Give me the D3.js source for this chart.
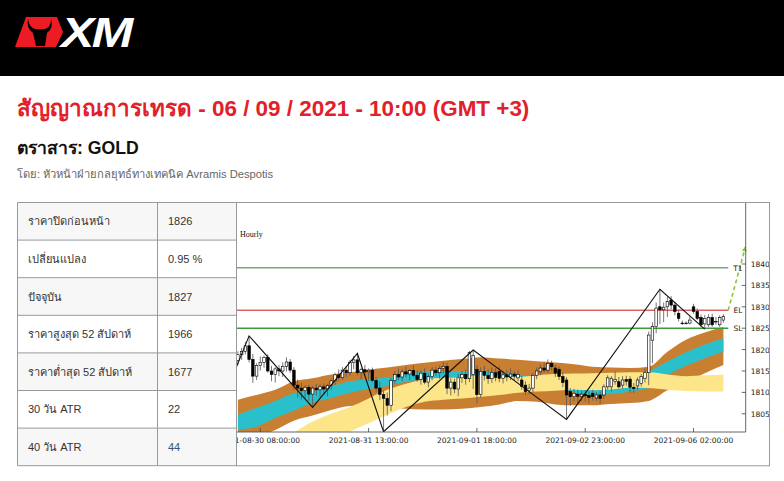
<!DOCTYPE html>
<html><head><meta charset="utf-8">
<script src="https://cdn.jsdelivr.net/npm/d3@7"></script>
<style>
body{margin:0;background:#fff;}
svg{display:block;font-family:"Liberation Sans",Arial,"Noto Sans",sans-serif;}
</style>
</head><body>
<svg id="c" width="784" height="481"></svg>
<script>
// ---------------- DATA ----------------
const titleText = "สัญญาณการเทรด - 06 / 09 / 2021 - 10:00 (GMT +3)";
const instrumentText = "ตราสาร: GOLD";
const authorText = "โดย: หัวหน้าฝ่ายกลยุทธ์ทางเทคนิค Avramis Despotis";
const tableLabels = ["ราคาปิดก่อนหน้า","เปลี่ยนแปลง","ปัจจุบัน","ราคาสูงสุด 52 สัปดาห์","ราคาต่ำสุด 52 สัปดาห์","30 วัน ATR","40 วัน ATR"];
const tableValues = ["1826","0.95 %","1827","1966","1677","22","44"];

const yTicks = [1805,1810,1815,1820,1825,1830,1835,1840];
const xTickIdx = [6,35,64,93,122];
const xTickLabels = ["2021-08-30 08:00:00","2021-08-31 13:00:00","2021-09-01 18:00:00","2021-09-02 23:00:00","2021-09-06 02:00:00"];

const open = [1817.5,1818.8,1819.6,1820.9,1817.7,1813.8,1816.3,1817.0,1818.2,1815.0,1814.2,1815.5,1815.0,1816.1,1817.1,1815.2,1811.7,1811.0,1810.4,1811.2,
1809.6,1811.0,1810.6,1811.3,1810.8,1811.6,1812.7,1814.1,1813.5,1815.2,1814.6,1817.0,1817.6,1814.6,1815.3,1814.8,1815.2,1812.8,1811.0,1809.5,
1808.6,1807.0,1812.8,1814.2,1813.6,1814.8,1814.3,1815.1,1814.0,1813.0,1814.5,1812.4,1813.7,1815.2,1814.6,1815.6,1816.1,1811.0,1812.4,1810.8,
1813.4,1814.2,1813.2,1814.2,1815.4,1809.5,1814.9,1814.0,1813.2,1814.6,1814.9,1813.3,1814.1,1813.6,1814.3,1813.4,1812.9,1811.7,1810.4,1811.0,
1814.0,1814.8,1815.7,1815.2,1816.8,1815.7,1815.4,1813.7,1812.9,1810.2,1809.0,1809.6,1809.1,1809.6,1809.3,1809.8,1808.7,1809.4,1809.4,1811.3,
1811.3,1812.6,1812.5,1811.7,1813.0,1813.1,1811.2,1811.5,1812.1,1813.3,1814.6,1822.2,1825.4,1830.0,1829.3,1830.0,1831.6,1830.4,1828.5,1826.2,
1826.1,1826.2,1830.0,1828.9,1827.5,1826.0,1825.8,1827.5,1826.5,1825.8,1826.9];
const high = [1819.6,1820.4,1821.8,1823.2,1819.0,1816.8,1818.4,1818.6,1818.9,1816.2,1815.9,1816.4,1817.0,1818.2,1817.8,1815.9,1813.0,1812.2,1811.7,1811.8,
1811.5,1812.0,1811.9,1812.1,1812.0,1813.2,1814.6,1815.4,1815.9,1816.1,1817.6,1818.5,1819.1,1815.8,1816.4,1815.6,1815.8,1813.6,1812.5,1810.4,
1810.0,1813.4,1815.0,1815.6,1815.4,1816.0,1815.5,1816.3,1815.1,1815.2,1815.6,1814.3,1815.9,1816.0,1816.3,1817.1,1816.9,1813.3,1813.2,1814.4,
1815.0,1815.3,1819.7,1819.9,1816.4,1815.9,1816.2,1815.3,1815.8,1815.6,1816.1,1815.0,1815.2,1815.6,1815.1,1815.3,1814.0,1812.6,1812.0,1814.6,
1815.8,1816.6,1816.9,1817.7,1817.4,1816.4,1816.0,1814.6,1813.6,1811.0,1810.8,1810.6,1810.4,1810.5,1810.2,1810.6,1810.1,1810.2,1811.9,1814.0,
1813.8,1814.9,1813.6,1813.8,1813.9,1813.8,1812.2,1813.5,1814.3,1815.6,1824.2,1826.4,1831.0,1834.1,1831.0,1832.3,1832.5,1831.2,1829.3,1826.8,
1826.6,1827.8,1830.7,1829.6,1828.2,1828.1,1828.3,1828.4,1827.6,1828.0,1828.3];
const low = [1816.4,1817.6,1818.9,1817.0,1812.2,1812.9,1815.1,1815.8,1814.6,1812.6,1812.3,1813.8,1813.6,1814.9,1814.6,1810.6,1808.8,1808.3,1808.6,1808.0,
1806.5,1809.2,1808.7,1809.4,1809.1,1810.6,1811.8,1812.8,1812.9,1813.6,1813.9,1815.4,1814.0,1813.0,1814.1,1812.7,1812.3,1810.2,1808.2,1800.8,
1804.6,1805.6,1812.0,1812.9,1812.6,1813.5,1812.8,1813.6,1812.5,1811.8,1811.9,1811.2,1812.8,1813.9,1813.2,1814.4,1809.6,1809.3,1809.8,1809.1,
1812.2,1811.8,1812.4,1810.8,1807.4,1808.8,1812.8,1812.0,1812.2,1812.6,1812.4,1812.1,1812.6,1812.9,1812.7,1812.6,1810.6,1809.4,1809.6,1810.1,
1813.1,1814.0,1814.6,1814.5,1815.1,1813.6,1812.9,1811.2,1803.7,1806.9,1807.9,1807.6,1808.0,1807.8,1807.4,1808.1,1807.9,1807.3,1808.5,1810.6,
1810.2,1811.8,1810.9,1810.8,1811.6,1809.9,1809.8,1810.6,1811.4,1812.3,1811.7,1816.8,1823.8,1826.0,1826.4,1827.6,1829.4,1828.0,1826.6,1825.8,
1825.9,1825.9,1828.4,1826.9,1825.3,1824.8,1825.3,1825.3,1825.8,1825.3,1826.3];
const close = [1818.8,1819.6,1820.9,1817.7,1813.8,1816.3,1817.0,1818.2,1815.0,1814.2,1815.5,1815.0,1816.1,1817.1,1815.2,1811.7,1811.0,1810.4,1811.2,1809.6,
1811.0,1810.6,1811.3,1810.8,1811.6,1812.7,1814.1,1813.5,1815.2,1814.6,1817.0,1817.6,1814.6,1815.3,1814.8,1815.2,1812.8,1811.0,1809.5,1808.6,
1807.0,1812.8,1814.2,1813.6,1814.8,1814.3,1815.1,1814.0,1813.0,1814.5,1812.4,1813.7,1815.2,1814.6,1815.6,1816.1,1811.0,1812.4,1810.8,1813.4,
1814.2,1813.2,1819.3,1818.6,1809.5,1814.9,1814.0,1813.2,1814.6,1813.5,1813.3,1814.1,1813.6,1814.3,1813.8,1814.2,1811.4,1810.2,1811.0,1814.0,
1815.0,1815.7,1815.2,1816.8,1816.0,1814.5,1813.7,1812.3,1809.4,1809.0,1809.8,1809.1,1809.6,1809.2,1808.8,1809.0,1809.4,1808.6,1811.3,1813.4,
1813.3,1813.0,1811.3,1812.9,1812.6,1811.2,1810.9,1812.9,1813.7,1814.6,1823.4,1825.4,1829.7,1829.3,1829.9,1831.2,1830.4,1828.9,1827.3,1826.1,
1826.2,1826.9,1828.9,1827.3,1825.8,1827.3,1827.5,1825.8,1826.6,1827.5,1827.7];

const bandIdx  = [0,5,10,15,20,25,30,35,40,45,50,55,60,65,70,75,80,85,90,95,100,105,110,115,120,125,130];
const brownTop = [1808.3,1809.4,1810.6,1812.6,1813.3,1814.2,1814.7,1815.3,1815.8,1816.4,1816.9,1817.4,1817.8,1818.2,1817.9,1817.6,1817.3,1817.0,1816.6,1816.0,1815.8,1815.7,1816.0,1819.5,1822.3,1824.0,1825.3];
const cyanTop  = [1804.8,1806.4,1808.0,1809.8,1810.3,1811.4,1812.6,1813.1,1813.5,1814.3,1814.8,1815.0,1815.0,1814.9,1814.6,1814.2,1813.6,1813.0,1812.2,1811.6,1811.4,1811.8,1814.8,1817.2,1819.4,1821.2,1822.6];
const cyanBot  = [1801.3,1802.0,1804.0,1805.8,1807.6,1808.7,1809.9,1810.8,1811.5,1812.5,1813.0,1813.3,1813.4,1813.9,1813.6,1813.2,1812.2,1811.0,1810.0,1809.4,1809.6,1810.2,1811.0,1814.0,1816.2,1818.0,1819.5];
const brownBot = [1798.0,1799.5,1801.2,1803.4,1804.6,1805.9,1806.8,1807.0,1806.5,1806.2,1806.0,1806.0,1806.2,1806.6,1807.2,1808.0,1807.8,1807.2,1807.0,1807.0,1807.3,1807.5,1808.0,1810.5,1812.4,1814.5,1816.4];

const yellowIdx = [15,20,25,30,35,40,45,50,55,60,65,70,75,80,85,90,95,100,105,110,115,120,125,130];
const yellowTop = [1800.6,1803.2,1805.0,1806.6,1808.6,1810.6,1812.0,1813.0,1813.4,1813.5,1814.0,1814.0,1813.6,1814.0,1814.3,1814.4,1814.5,1814.6,1814.7,1814.7,1814.2,1813.8,1814.0,1814.2];
const yellowBot = [1795.0,1796.0,1797.5,1800.8,1802.8,1804.8,1806.6,1807.8,1808.3,1808.6,1809.0,1809.4,1809.9,1810.2,1810.4,1810.6,1810.5,1810.7,1811.1,1811.0,1810.6,1810.3,1810.2,1810.2];

const zigIdx = [-2,3,20,32,39,63,88,113,125];
const zigVal = [1812.5,1823.2,1806.5,1819.1,1800.8,1819.9,1803.7,1834.1,1824.8];

const levelNames  = ["T1","EL","SL"];
const levelValues = [1839.1,1829.2,1825.0];
const levelColors = ["#74ab74","#e06464","#3c9c3c"];
const levelEndIdx = 131.3;
const arrowIdx = [131.3,135.9];
const arrowVal = [1829.2,1844.0];

// ---------------- DRAW ----------------
const svg = d3.select("#c");
svg.append("rect").attr("width",784).attr("height",481).attr("fill","#fff");

// header
svg.append("rect").attr("x",0).attr("y",0).attr("width",784).attr("height",76).attr("fill","#000");
svg.append("path").attr("d","M26,17 L57,17 L63,32 L56,47 L15,47 Z").attr("fill","#ed1c24");
svg.append("path").attr("d","M28,19 Q29,27 35,29 L45,29 Q51,27 51,19 Q54,28 47,33 L45,46 L36,46 L33,33 Q26,28 28,19 Z").attr("fill","#000");
const xm = svg.append("text").attr("x",61).attr("y",47).attr("fill","#fff")
  .attr("font-size",42).attr("font-weight","bold").attr("font-style","italic")
  .attr("letter-spacing",-2).text("XM");
xm.attr("textLength",70).attr("lengthAdjust","spacingAndGlyphs");

function fit(sel, target, size){
  sel.attr("font-size",size);
  const w = sel.node().getComputedTextLength();
  if (w>0) sel.attr("font-size", size*target/w);
}
const title = svg.append("text").attr("x",17).attr("y",116).attr("fill","#e2202a")
  .attr("font-weight","bold").text(titleText);
fit(title, 510, 22);
const inst = svg.append("text").attr("x",17).attr("y",154).attr("fill","#111")
  .attr("font-weight","bold").text(instrumentText);
fit(inst, 123, 17);
const auth = svg.append("text").attr("x",17).attr("y",178).attr("fill","#666").text(authorText);
fit(auth, 255, 11);

// table
const tX0=17.5, tX1=157.5, tX2=236.5, tY0=202.5, rowH=37.6;
const tg = svg.append("g");
tableLabels.forEach((lab,i)=>{
  const y = tY0 + i*rowH;
  tg.append("rect").attr("x",tX0).attr("y",y).attr("width",tX2-tX0).attr("height",rowH)
    .attr("fill", i%2===0 ? "#f7f7f7" : "#ffffff");
  tg.append("text").attr("x",28).attr("y",y+rowH/2+4).attr("font-size",11).attr("fill","#333").text(lab);
  tg.append("text").attr("x",168).attr("y",y+rowH/2+4).attr("font-size",11)
    .attr("fill", i===6 ? "#34567a" : "#333").text(tableValues[i]);
  tg.append("line").attr("x1",tX0).attr("x2",tX2).attr("y1",y).attr("y2",y).attr("stroke","#999");
});
tg.append("line").attr("x1",tX0).attr("x2",tX2).attr("y1",tY0+7*rowH).attr("y2",tY0+7*rowH).attr("stroke","#999");
[tX0,tX1].forEach(x=>tg.append("line").attr("x1",x).attr("x2",x).attr("y1",tY0).attr("y2",tY0+7*rowH).attr("stroke","#999"));

// chart image frame
const cg = svg.append("g");
cg.append("rect").attr("x",236.5).attr("y",202.5).attr("width",533).attr("height",263.3)
  .attr("fill","#fff").attr("stroke","#999");

const pL=237, pR=745.7, pT=203, pB=432;
const x = d3.scaleLinear().domain([0,130]).range([237.9,723.4]);
const y = d3.scaleLinear().domain([1805,1840]).range([413.8,264.0]);

svg.append("defs").append("clipPath").attr("id","plot")
  .append("rect").attr("x",pL).attr("y",pT).attr("width",pR-pL).attr("height",pB-pT);
svg.select("defs").append("clipPath").attr("id","img")
  .append("rect").attr("x",237).attr("y",203).attr("width",532).attr("height",262);
svg.select("defs").append("marker").attr("id","ah").attr("viewBox","0 0 10 10")
  .attr("refX",9).attr("refY",5).attr("markerWidth",5).attr("markerHeight",8)
  .attr("markerUnits","userSpaceOnUse").attr("orient","auto")
  .append("path").attr("d","M0,0 L10,5 L0,10 Z").attr("fill","#8cc63f");

const plot = cg.append("g").attr("clip-path","url(#plot)");

// bands
const curve = d3.curveMonotoneX;
const area = (idx, top, bot) => d3.area().curve(curve)
  .x((d,i)=>x(idx[i])).y0((d,i)=>y(bot[i])).y1((d,i)=>y(top[i]))(idx);
plot.append("path").attr("d",area(bandIdx,brownTop,brownBot)).attr("fill","#c97f32");
plot.append("path").attr("d",area(bandIdx,cyanTop,cyanBot)).attr("fill","#2ac0cb");
plot.append("path").attr("d",area(yellowIdx,yellowTop,yellowBot)).attr("fill","#fde58a");

// level lines
levelValues.forEach((v,i)=>{
  plot.append("line").attr("x1",pL).attr("x2",x(levelEndIdx)).attr("y1",y(v)).attr("y2",y(v))
    .attr("stroke",levelColors[i]).attr("stroke-width",1.5);
});

// candles
const bars = d3.range(open.length);
const cw = 2.6;
plot.selectAll("line.wick").data(bars).join("line").attr("class","wick")
  .attr("x1",i=>x(i)).attr("x2",i=>x(i)).attr("y1",i=>y(high[i])).attr("y2",i=>y(low[i]))
  .attr("stroke","#555").attr("stroke-width",0.8);
plot.selectAll("rect.body").data(bars).join("rect").attr("class","body")
  .attr("x",i=>x(i)-cw/2).attr("width",cw)
  .attr("y",i=>y(Math.max(open[i],close[i])))
  .attr("height",i=>Math.max(0.7, y(Math.min(open[i],close[i]))-y(Math.max(open[i],close[i]))))
  .attr("fill",i=>close[i]>=open[i] ? "#fff" : "#000")
  .attr("stroke","#000").attr("stroke-width",0.6);

// zigzag
plot.append("path").attr("d", d3.line().x((d,i)=>x(zigIdx[i])).y((d,i)=>y(zigVal[i]))(zigIdx))
  .attr("fill","none").attr("stroke","#111").attr("stroke-width",1.1);

// projection arrow
cg.append("path").attr("d", d3.line().x((d,i)=>x(arrowIdx[i])).y((d,i)=>y(arrowVal[i]))(arrowIdx))
  .attr("fill","none").attr("stroke","#8cc63f").attr("stroke-width",1.6)
  .attr("stroke-dasharray","4,3").attr("marker-end","url(#ah)");

// level labels
levelNames.forEach((n,i)=>{
  cg.append("text").attr("x",742.5).attr("y",y(levelValues[i])+3).attr("text-anchor","end")
    .attr("font-family","DejaVu Sans").attr("font-size",7.5).attr("fill","#222").text(n);
});

// axes
const axg = cg.append("g").attr("clip-path","url(#img)");
axg.append("line").attr("x1",pR).attr("x2",pR).attr("y1",pT).attr("y2",pB).attr("stroke","#555").attr("stroke-width",0.9);
axg.append("line").attr("x1",pL).attr("x2",pR).attr("y1",pB).attr("y2",pB).attr("stroke","#555").attr("stroke-width",0.9);
yTicks.forEach(v=>{
  axg.append("line").attr("x1",pR-4).attr("x2",pR).attr("y1",y(v)).attr("y2",y(v)).attr("stroke","#444").attr("stroke-width",0.8);
  axg.append("text").attr("x",pR+5).attr("y",y(v)+3).attr("font-family","DejaVu Sans")
    .attr("font-size",7.5).attr("fill","#222").text(v);
});
xTickIdx.forEach((t,i)=>{
  axg.append("line").attr("x1",x(t)).attr("x2",x(t)).attr("y1",pB-4).attr("y2",pB).attr("stroke","#444").attr("stroke-width",0.8);
  axg.append("text").attr("x",x(t)).attr("y",pB+11).attr("text-anchor","middle").attr("font-family","DejaVu Sans")
    .attr("font-size",7.5).attr("fill","#222").text(xTickLabels[i]);
});
axg.append("text").attr("x",240).attr("y",237).attr("font-family","Liberation Serif").attr("font-size",8).attr("fill","#111").text("Hourly");
</script>
</body></html>
